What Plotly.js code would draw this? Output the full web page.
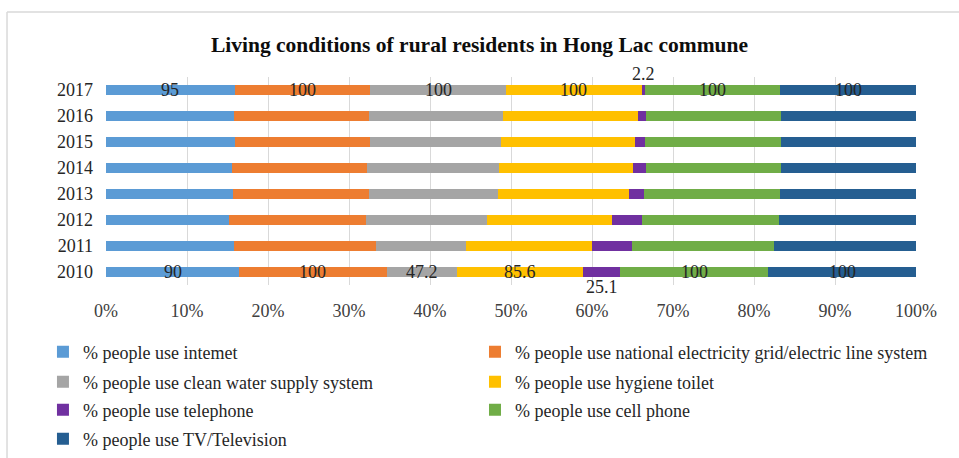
<!DOCTYPE html>
<html>
<head>
<meta charset="utf-8">
<script src="https://cdn.plot.ly/plotly-3.0.1.min.js"></script>
<style>html,body{margin:0;padding:0;background:#fff;}#chart{width:959px;height:458px;}</style>
</head>
<body>
<div id="chart"></div>
<script>
const years = ['2010','2011','2012','2013','2014','2015','2016','2017'];
const seriesNames = [
  '% people use intemet',
  '% people use national electricity grid/electric line system',
  '% people use clean water supply system',
  '% people use hygiene toilet',
  '% people use telephone',
  '% people use cell phone',
  '% people use TV/Television'
];
const internet    = [90, 90, 90, 93, 93, 95, 95, 95];
const electricity = [100, 100, 100, 100, 100, 100, 100, 100];
const water       = [47.2, 63, 88, 95, 98, 97, 99, 100];
const toilet      = [85.6, 89, 91, 96, 99, 99, 100, 100];
const telephone   = [25.1, 28, 22, 11, 9.6, 7.5, 6, 2.2];
const cellphone   = [100, 100, 100, 100, 100, 100, 100, 100];
const tv          = [100, 100, 100, 100, 100, 100, 100, 100];
const labelYears = ['2010','2017'];
const xTickVals = [0, 10, 20, 30, 40, 50, 60, 70, 80, 90, 100];
const xTickText = ['0%','10%','20%','30%','40%','50%','60%','70%','80%','90%','100%'];

const series = [internet, electricity, water, toilet, telephone, cellphone, tv];
const colors = ['#5B9BD5','#ED7D31','#A5A5A5','#FFC000','#7030A0','#70AD47','#255E91'];
const serif = 'Liberation Serif, Times New Roman, serif';

const legendIds = series.map((_, i) => i === 0 ? 'legend' : 'legend' + (i + 1));

const traces = series.map((vals, i) => ({
  type: 'bar', orientation: 'h', name: seriesNames[i],
  y: years, x: vals, marker: {color: colors[i]},
  legend: legendIds[i], hoverinfo: 'x+name'
}));

// data labels centred in segments for 2010 and 2017
const annotations = [];
labelYears.forEach(yr => {
  const idx = years.indexOf(yr);
  const total = series.reduce((s, v) => s + v[idx], 0);
  let cum = 0;
  series.forEach((vals, i) => {
    const v = vals[idx];
    const mid = (cum + v / 2) / total * 100;
    cum += v;
    let yshift = 0;
    if (v / total < 0.03) yshift = 16;
    else if (i === 4) yshift = -15;
    annotations.push({
      x: mid, y: idx, xref: 'x', yref: 'y', text: String(v), showarrow: false,
      yshift: yshift, font: {family: serif, size: 18, color: '#262626'}
    });
  });
});

// legend grid: two columns, four rows (container coordinates)
const colX = [0.0448, 0.4953];
const rowY = [0.2314, 0.1659, 0.1048, 0.0415];

const layout = {
  width: 959, height: 458,
  margin: {l: 106, r: 43, t: 77, b: 173},
  paper_bgcolor: '#fff', plot_bgcolor: '#fff',
  barmode: 'stack', barnorm: 'percent', bargap: 0.58,
  title: {text: '<b>Living conditions of rural residents in Hong Lac commune</b>',
          x: 0.5, xanchor: 'center', y: 0.902, yref: 'container', yanchor: 'middle',
          font: {family: serif, size: 21.5, color: '#0d0d0d'}},
  xaxis: {range: [0, 100], autorange: false, tickvals: xTickVals, ticktext: xTickText,
          showgrid: true, gridcolor: '#D9D9D9', zeroline: false, showline: false,
          ticks: '', ticklabelstandoff: 13,
          tickfont: {family: serif, size: 18, color: '#404040'}, fixedrange: true},
  yaxis: {type: 'category', categoryorder: 'array', categoryarray: years,
          range: [-0.5, years.length - 0.5], autorange: false,
          showgrid: false, zeroline: false, showline: false, ticks: '',
          ticklabelstandoff: 12,
          tickfont: {family: serif, size: 18, color: '#262626'}, fixedrange: true},
  showlegend: true,
  annotations: annotations,
  shapes: [
    {type: 'line', xref: 'paper', yref: 'paper', x0: -0.1222, x1: 1.1, y0: 1.3125, y1: 1.3125,
     line: {color: '#D9D9D9', width: 1.5}},
    {type: 'line', xref: 'paper', yref: 'paper', x0: -0.1222, x1: -0.1222, y0: 1.3125, y1: -1.0,
     line: {color: '#D9D9D9', width: 1.5}}
  ]
};

legendIds.forEach((id, i) => {
  layout[id] = {
    x: colX[i % 2], y: rowY[Math.floor(i / 2)], xref: 'container', yref: 'container',
    xanchor: 'left', yanchor: 'middle',
    orientation: 'h', font: {family: serif, size: 18, color: '#262626'},
    bgcolor: 'rgba(0,0,0,0)', itemclick: false, itemdoubleclick: false
  };
});

Plotly.newPlot('chart', traces, layout, {displayModeBar: false});
</script>
</body>
</html>
